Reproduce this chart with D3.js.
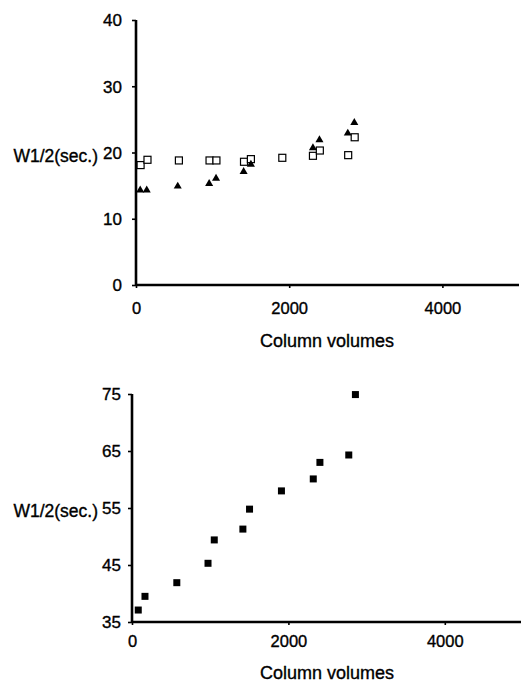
<!DOCTYPE html>
<html>
<head>
<meta charset="utf-8">
<script src="https://cdn.jsdelivr.net/npm/d3@7"></script>
<style>
  html, body { margin: 0; padding: 0; background: #fff; }
  svg { display: block; }
  text { font-family: "Liberation Sans", Arial, Helvetica, sans-serif; fill: #000; stroke: #000; stroke-width: 0.35px; }
</style>
</head>
<body>
<svg id="chart" width="521" height="684"></svg>
<script>
// ---- Data ----
const xTickValues = [0, 2000, 4000];
const xTitle = "Column volumes";
const yTitle = "W1/2(sec.)";

// Top panel
const topYTicks = [0, 10, 20, 30, 40];
const topSquareX = [60, 150, 560, 960, 1050, 1410, 1500, 1910, 2310, 2400, 2770, 2855];
const topSquareY = [18.1, 18.9, 18.8, 18.8, 18.8, 18.6, 19.0, 19.2, 19.5, 20.3, 19.6, 22.3];
const topTriangleX = [55, 140, 545, 955, 1045, 1405, 1500, 2310, 2395, 2765, 2850];
const topTriangleY = [14.3, 14.3, 14.9, 15.3, 16.1, 17.1, 18.2, 20.7, 21.9, 22.9, 24.5];

// Bottom panel
const botYTicks = [35, 45, 55, 65, 75];
const botX = [80, 166, 573, 972, 1052, 1418, 1503, 1911, 2318, 2403, 2772, 2857];
const botY = [37.1, 39.5, 41.9, 45.3, 49.4, 51.3, 54.8, 58.0, 60.1, 63.0, 64.3, 74.9];

const svg = d3.select("#chart");

function panel(cfg) {
  const x = d3.scaleLinear().domain([0, 5000]).range(cfg.xRange);
  const y = d3.scaleLinear().domain(cfg.yDomain).range(cfg.yRange);
  const g = svg.append("g");

  // y axis
  const yAxis = d3.axisLeft(y).tickValues(cfg.yTicks).tickSize(4).tickPadding(cfg.yPad).tickFormat(d3.format("d"));
  const ya = g.append("g").attr("transform", `translate(${cfg.xRange[0]},0)`).call(yAxis);
  ya.select(".domain").attr("stroke", "#000").attr("stroke-width", 2.6).attr("d", `M0,${cfg.yRange[1]}V${cfg.yRange[0]}`);
  ya.selectAll(".tick line").attr("stroke", "#000").attr("stroke-width", 1.6);
  ya.selectAll(".tick text").attr("font-size", 17).attr("dy", "0.35em");

  // x axis
  const xAxis = d3.axisBottom(x).tickValues(xTickValues).tickSize(3).tickPadding(cfg.xPad).tickFormat(d3.format("d"));
  const xa = g.append("g").attr("transform", `translate(0,${cfg.yRange[0]})`).call(xAxis);
  xa.select(".domain").attr("stroke", "#000").attr("stroke-width", 2.6).attr("d", `M${cfg.xRange[0]},0H${cfg.xRange[1]}`);
  xa.selectAll(".tick line").attr("stroke", "#000").attr("stroke-width", 1.6);
  xa.selectAll(".tick text").attr("font-size", 16.5);

  // titles
  g.append("text").attr("x", 327).attr("y", cfg.xTitleY).attr("text-anchor", "middle")
    .attr("font-size", 18).text(xTitle);
  g.append("text").attr("x", 98).attr("y", cfg.yTitleY).attr("text-anchor", "end")
    .attr("dy", "0.35em").attr("font-size", 17.5).text(yTitle);

  return { g, x, y };
}

// ---- Top panel ----
const upper = panel({
  xRange: [136, 519], yDomain: [0, 40], yRange: [285, 20], yTicks: topYTicks,
  yPad: 10, xPad: 14, xTitleY: 347, yTitleY: 156
});
upper.g.append("g").selectAll("rect").data(topSquareX).join("rect")
  .attr("x", (d) => upper.x(d) - 3.5)
  .attr("y", (d, i) => upper.y(topSquareY[i]) - 3.5)
  .attr("width", 7).attr("height", 7)
  .attr("fill", "#fff").attr("stroke", "#000").attr("stroke-width", 1.2);
const tri = d3.symbol().type(d3.symbolTriangle).size(28);
upper.g.append("g").selectAll("path").data(topTriangleX).join("path")
  .attr("d", tri)
  .attr("transform", (d, i) => `translate(${upper.x(d)},${upper.y(topTriangleY[i])})`)
  .attr("fill", "#000");

// ---- Bottom panel ----
const lower = panel({
  xRange: [132, 523], yDomain: [35, 75], yRange: [622, 394], yTicks: botYTicks,
  yPad: 7, xPad: 10, xTitleY: 679, yTitleY: 511
});
lower.g.append("g").selectAll("rect").data(botX).join("rect")
  .attr("x", (d) => lower.x(d) - 3.5)
  .attr("y", (d, i) => lower.y(botY[i]) - 3.5)
  .attr("width", 7).attr("height", 7)
  .attr("fill", "#000");
</script>
</body>
</html>
